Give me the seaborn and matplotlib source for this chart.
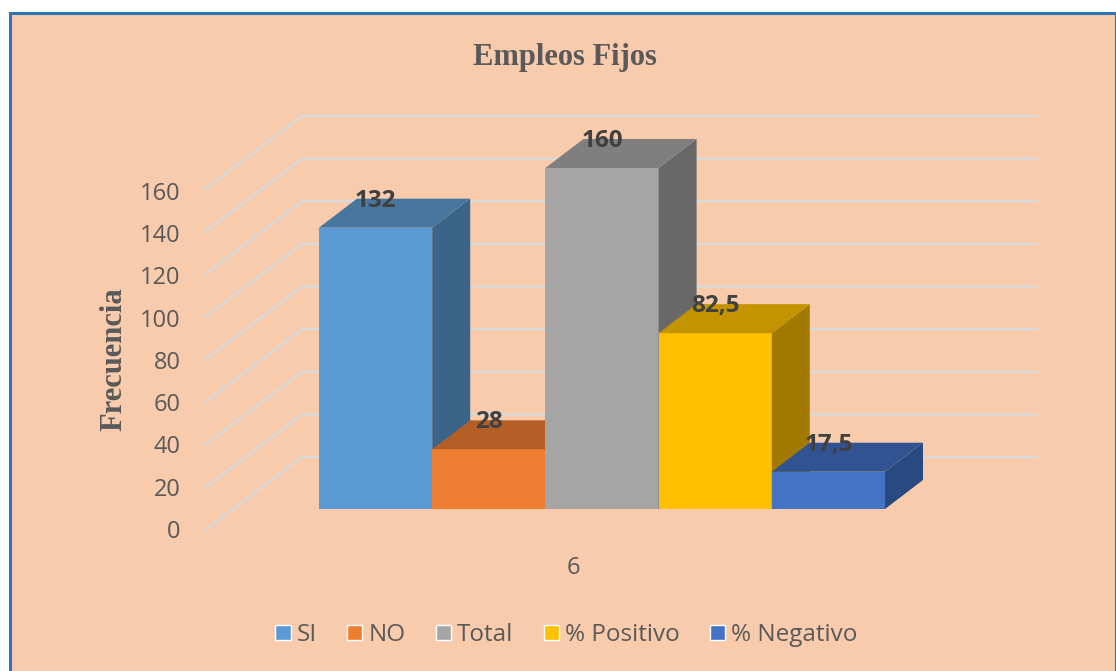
import matplotlib
matplotlib.use("Agg")
import matplotlib.pyplot as plt
import pandas as pd
import seaborn as sns
from matplotlib.lines import Line2D
from matplotlib.patches import Polygon, Rectangle
from matplotlib.transforms import IdentityTransform

# === Data ===
CATEGORY = "6"
SERIES = ["SI", "NO", "Total", "% Positivo", "% Negativo"]
VALUES = [132, 28, 160, 82.5, 17.5]
VALUE_LABELS = ["132", "28", "160", "82,5", "17,5"]
Y_TICKS = [0, 20, 40, 60, 80, 100, 120, 140, 160]
TITLE = "Empleos Fijos"
Y_LABEL = "Frecuencia"

# === Style ===
W, H = 1116, 671
FRONT = ["#5B9BD5", "#ED7D31", "#A5A5A5", "#FFC000", "#4472C4"]
TOP = ["#47769F", "#B45F25", "#7F7F7F", "#C49300", "#315391"]
SIDE = ["#3A6488", "#9A5020", "#686868", "#A27A00", "#294A80"]
PANEL = "#F7CBAC"
BORDER = "#2E75B6"
GRID = "#D9D9D9"
TEXT = "#595959"
DEPTH = (38, 29)  # bar depth, pixels
WALL_SHIFT = 52  # back wall above the bar plane, pixels
WALL_LEFT, WALL_RIGHT, FLOOR_LEFT, FLOOR_DROP = 302, 1037, 204, 74

sns.set_theme(style="white")
plt.rcParams["font.family"] = ["Open Sans", "DejaVu Sans"]

fig = plt.figure(figsize=(W / 100, H / 100), dpi=100, facecolor="white")
fig.add_artist(Rectangle((9.5, -5), 1106, H - 12.5 + 5, facecolor=PANEL, edgecolor=BORDER, linewidth=2.2,
                         transform=IdentityTransform(), zorder=-3))


def axes_box(left, right, top, bottom):
    return [left / W, 1 - bottom / H, (right - left) / W, (bottom - top) / H]


# bars
ax = fig.add_axes(axes_box(319, 885, 168, 509))
ax.patch.set_visible(False)
df = pd.DataFrame({"categoria": [CATEGORY] * len(SERIES), "serie": SERIES, "valor": VALUES})
sns.barplot(data=df, x="categoria", y="valor", hue="serie", hue_order=SERIES, palette=FRONT,
            width=1, gap=0, saturation=1, ax=ax)
handles, labels = ax.get_legend_handles_labels()
ax.get_legend().remove()
ax.set_xlim(-0.5, 0.5)
ax.set_ylim(0, 160)
ax.set_xticks([])
ax.set_yticks([])
ax.set_xlabel("")
ax.set_ylabel("")
sns.despine(ax=ax, left=True, bottom=True)

# back wall grid
for tick in Y_TICKS:
    y = ax.transData.transform((0, tick))[1] + WALL_SHIFT
    fig.add_artist(Line2D([FLOOR_LEFT, WALL_LEFT, WALL_RIGHT], [y - FLOOR_DROP, y, y], color=GRID, linewidth=1.7,
                          solid_joinstyle="miter", transform=IdentityTransform(), zorder=-1))

# 3d faces, drawn left to right so each bar covers the one before it
bars = [c[0] for c in ax.containers]
for i, bar in enumerate(bars):
    (x0, y0), (x1, y1) = ax.transData.transform([(bar.get_x(), 0), (bar.get_x() + bar.get_width(), bar.get_height())])
    dx, dy = DEPTH
    bar.set_zorder(10 + i)
    bar.set_edgecolor("none")
    bar.set_linewidth(0)
    ax.add_artist(Polygon([(x1, y0), (x1, y1), (x1 + dx, y1 + dy), (x1 + dx, y0 + dy)], facecolor=SIDE[i],
                          edgecolor="none", linewidth=0, transform=IdentityTransform(), clip_on=False, zorder=10 + i))
    ax.add_artist(Polygon([(x0, y1), (x1, y1), (x1 + dx, y1 + dy), (x0 + dx, y1 + dy)], facecolor=TOP[i],
                          edgecolor="none", linewidth=0, transform=IdentityTransform(), clip_on=False, zorder=10 + i))
    ax.annotate(VALUE_LABELS[i], xy=(bar.get_x() + bar.get_width() / 2, bar.get_height()), xytext=(0, 27),
                textcoords="offset pixels", ha="center", va="center", fontsize=17.5, fontweight="bold",
                color="#404040", annotation_clip=False, zorder=30)

ax.annotate(CATEGORY, xy=(0, 0), xytext=(-29, -59), textcoords="offset pixels", ha="center", va="center",
            fontsize=17, color=TEXT, annotation_clip=False)

# value axis on the front edge of the floor
ax_y = fig.add_axes(axes_box(FLOOR_LEFT, FLOOR_LEFT + 1, 191, 529))
ax_y.patch.set_visible(False)
ax_y.set_ylim(0, 160)
ax_y.set_yticks(Y_TICKS)
ax_y.set_xticks([])
ax_y.tick_params(axis="y", length=0, pad=17, labelsize=17, labelcolor=TEXT)
sns.despine(ax=ax_y, left=True, bottom=True)

fig.text(565 / W, 1 - 57 / H, TITLE, family="Liberation Serif", fontweight="bold", fontsize=22, color=TEXT,
         ha="center", va="center")
fig.text(114 / W, 1 - 359 / H, Y_LABEL, family="Liberation Serif", fontweight="bold", fontsize=22, color=TEXT,
         rotation=90, ha="center", va="center")

fig.legend(handles, labels, ncol=5, loc="center", bbox_to_anchor=(566.5 / W, 1 - 635 / H), frameon=False,
           fontsize=17.5, labelcolor=TEXT, handlelength=0.62, handleheight=0.62, handletextpad=0.25, columnspacing=1.25)

fig.savefig("out.png", dpi=100)
